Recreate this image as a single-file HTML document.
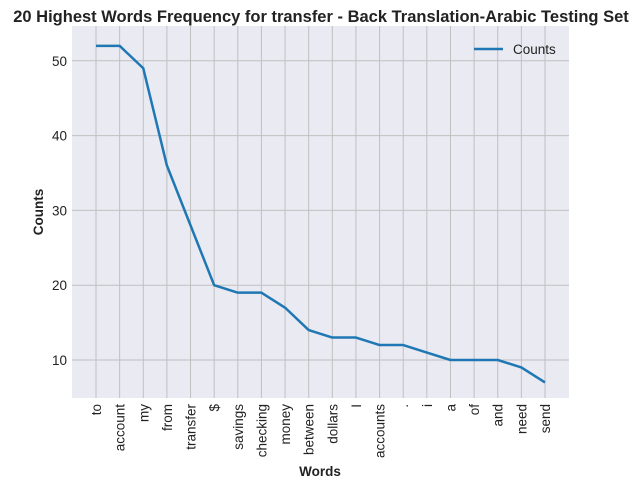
<!DOCTYPE html>
<html><head><meta charset="utf-8"><style>
body{margin:0;background:#fff;font-family:"Liberation Sans",sans-serif}
svg text{font-family:"Liberation Sans",sans-serif}
</style></head><body>
<svg id="c" width="641" height="489" xmlns="http://www.w3.org/2000/svg">
<text x="321" y="22" text-anchor="middle" font-size="16.5" font-weight="bold" fill="#222">20 Highest Words Frequency for transfer - Back Translation-Arabic Testing Set</text>
<rect x="72" y="26" width="497" height="372" fill="#eaeaf2"/>
<g id="grid"></g><g id="ticks"></g>
<path id="line" fill="none" stroke="#1f77b4" stroke-width="2.5" stroke-linejoin="round"/>
<text x="320" y="476" text-anchor="middle" font-size="13.5" font-weight="bold" fill="#222">Words</text>
<text transform="translate(43,212) rotate(-90)" text-anchor="middle" font-size="13.5" font-weight="bold" fill="#222">Counts</text>
<g>
<line x1="474" y1="49" x2="503" y2="49" stroke="#1f77b4" stroke-width="2.5"/>
<text x="513" y="54" font-size="13.5" fill="#222">Counts</text></g>
</svg>
<script>
const words=["to","account","my","from","transfer","$","savings","checking","money","between","dollars","I","accounts",".","i","a","of","and","need","send"];
const counts=[52,52,49,36,28,20,19,19,17,14,13,13,12,12,11,10,10,10,9,7];
const yTicks=[10,20,30,40,50];
const NS="http://www.w3.org/2000/svg";
const x=i=>96+i*(449/19);
const y=v=>434.8-v*7.48;
const g=document.getElementById('grid'),t=document.getElementById('ticks');
function mk(tag,a,p){const e=document.createElementNS(NS,tag);for(const k in a)e.setAttribute(k,a[k]);p.appendChild(e);return e;}
words.forEach((w,i)=>{
 const l=mk('line',{x1:x(i),x2:x(i),y1:26,y2:398,stroke:'#c0c0c0','stroke-width':1},g);
 
 
 const tx=mk('text',{transform:`translate(${x(i)+5},404) rotate(-90)`,'text-anchor':'end','font-size':13.5,fill:'#222'},t);
 tx.textContent=w;
 
 
});
yTicks.forEach(v=>{
 const l=mk('line',{x1:72,x2:569,y1:y(v),y2:y(v),stroke:'#c0c0c0','stroke-width':1},g);
 
 
 const tx=mk('text',{x:67,y:y(v)+5,'text-anchor':'end','font-size':13.5,fill:'#222'},t);
 tx.textContent=v;
 
 
});
document.getElementById('line').setAttribute('d',counts.map((v,i)=>(i?'L':'M')+x(i)+','+y(v)).join(''));
</script>
</body></html>
